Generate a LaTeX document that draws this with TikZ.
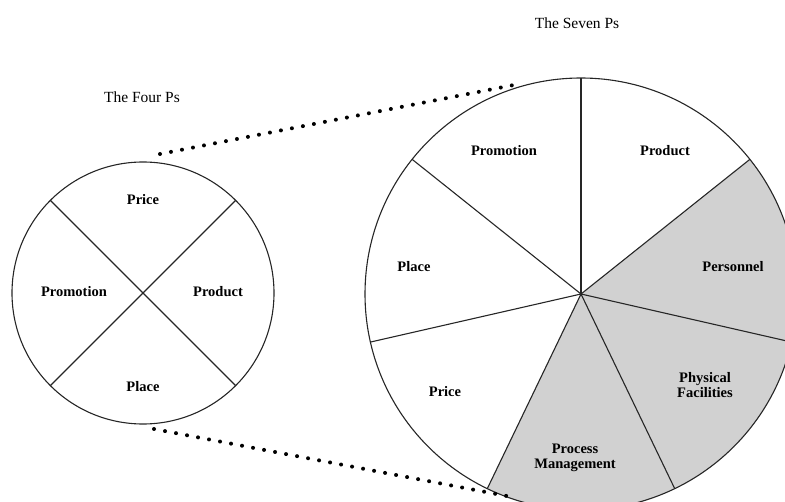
\documentclass[tikz,border=0pt]{standalone}
\usepackage{fontspec}
\setmainfont{Liberation Serif}
\tikzset{
	slice/.style={font=\fontsize{14.5}{15}\selectfont\bfseries, align=center, inner sep=0pt},
	heading/.style={font=\fontsize{15.5}{17}\selectfont, inner sep=0pt},
	dots/.style={line width=4pt, line cap=round, dash pattern=on 0pt off 11.2pt},
	stipple/.style={fill=black!18},
	rim/.style={line width=1.1pt, black!85}
}
\begin{document}
	\begin{tikzpicture}[x=1pt,y=-1pt]
		\useasboundingbox (0,0) rectangle (785,502);
		\clip (0,0) rectangle (785,502);

		\coordinate (fc) at (143,293);
		\coordinate (sc) at (581,294);

		\fill[stipple] (sc) -- ++(38.57:216pt) arc[start angle=38.57, end angle=-115.71, radius=216pt] -- cycle;

		\draw[rim] (fc) circle (131pt);
		\foreach \a in {45,135,225,315}
			\draw[rim] (fc) -- ++(\a:131pt);

		\draw[rim] (sc) circle (216pt);
		\foreach \a in {90,38.57,-12.86,-64.29,-115.71,-167.14,141.43}
			\draw[rim] (sc) -- ++(\a:216pt);

		\node[heading] (four) at (142,97) {The Four Ps};
		\node[slice] (f-price) at (143,200) {Price};
		\node[slice] (f-promotion) at (74,292) {Promotion};
		\node[slice] (f-product) at (218,292) {Product};
		\node[slice] (f-place) at (143,387) {Place};

		\node[heading] (seven) at (577,23) {The Seven Ps};
		\node[slice] (s-promotion) at (504,151) {Promotion};
		\node[slice] (s-product) at (665,151) {Product};
		\node[slice] (s-place) at (414,267) {Place};
		\node[slice] (s-personnel) at (733,267) {Personnel};
		\node[slice] (s-price) at (445,392) {Price};
		\node[slice] (s-physical) at (705,385) {Physical\\Facilities};
		\node[slice] (s-process) at (575,458) {Process\\Management};

		\coordinate (up-a) at (160,154);
		\coordinate (up-b) at (519,84);
		\coordinate (lo-a) at (154,429);
		\coordinate (lo-b) at (512,497);
		\draw[dots] (up-a) -- (up-b);
		\draw[dots] (lo-a) -- (lo-b);
	\end{tikzpicture}
\end{document}
